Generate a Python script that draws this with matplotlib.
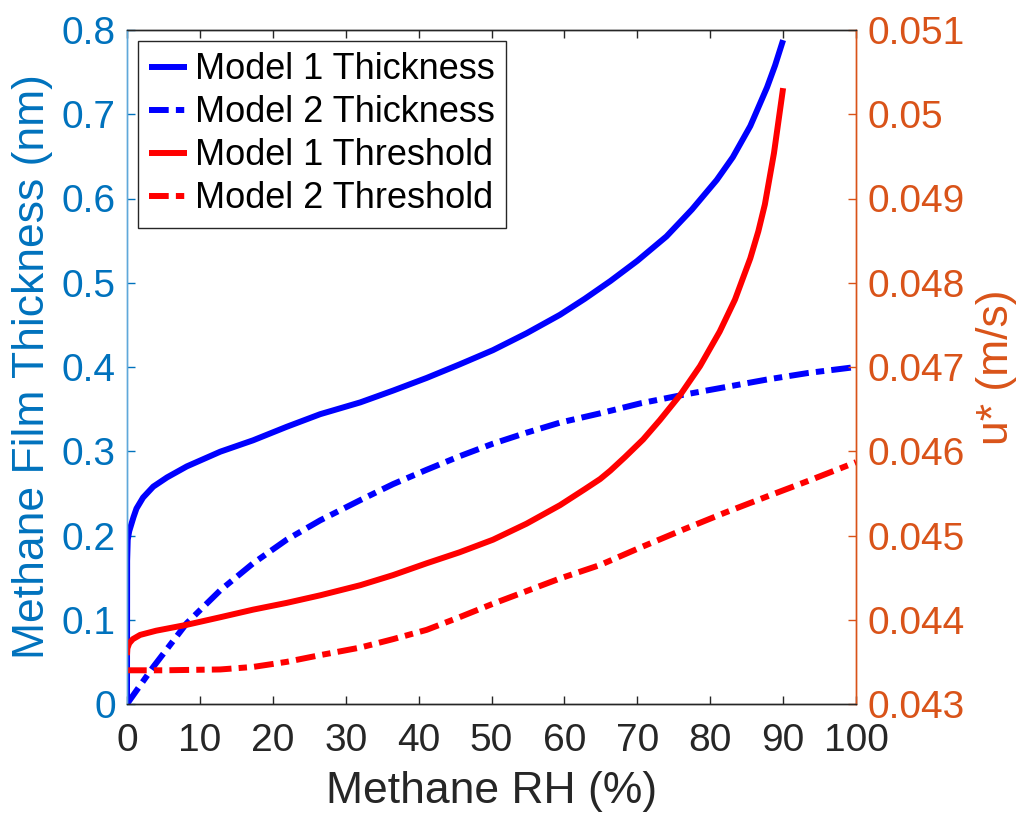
import matplotlib
matplotlib.use("Agg")
import matplotlib.pyplot as plt

plt.rcParams['font.family'] = ['Liberation Sans', 'DejaVu Sans']

# Model 1 thickness (left axis, nm)
rh_m1_thk = [0, 0.02, 0.1, 0.3, 0.9, 1.3, 2.2, 3.6, 5.5, 8.2, 12.8, 17.3, 21.9, 26.5, 32.0,
             36.5, 41.1, 45.6, 50.2, 54.8, 59.4, 62.8, 66.3, 70.0, 74.0, 77.5, 80.9,
             83.1, 85.5, 87.8, 88.9, 90.0]
thk_m1 = [0, 0.17, 0.195, 0.205, 0.222, 0.232, 0.245, 0.258, 0.269, 0.282, 0.2995, 0.313, 0.329,
          0.344, 0.358, 0.372, 0.387, 0.403, 0.420, 0.440, 0.462, 0.481, 0.502, 0.526,
          0.555, 0.587, 0.622, 0.649, 0.686, 0.732, 0.758, 0.788]

# Model 2 thickness (left axis, nm)
rh_m2_thk = [0, 3.6, 8.2, 12.8, 17.3, 21.9, 26.5, 32.0, 36.5, 41.1, 45.6, 50.2, 54.8,
             59.4, 64.9, 70.5, 76.3, 82.0, 87.7, 93.5, 100.0]
thk_m2 = [0, 0.044, 0.096, 0.135, 0.167, 0.195, 0.218, 0.242, 0.261, 0.278, 0.294, 0.309,
          0.322, 0.334, 0.345, 0.357, 0.367, 0.376, 0.385, 0.393, 0.400]

# Model 1 threshold (right axis, m/s)
rh_m1_thr = [0, 0.05, 0.3, 0.8, 1.8, 4.0, 8.2, 12.8, 17.3, 21.9, 26.5, 32.0, 36.5, 41.1,
             45.6, 50.2, 54.8, 59.4, 62.8, 64.9, 66.3, 68.3, 70.8, 73.1, 75.9, 78.6,
             81.3, 83.4, 85.5, 86.6, 87.5, 88.75, 90.0]
u_m1 = [0.04358, 0.04366, 0.04372, 0.04377, 0.04382, 0.04387, 0.04394, 0.04403, 0.04412,
        0.04420, 0.04429, 0.04441, 0.04453, 0.04467, 0.04480, 0.04495, 0.04514, 0.04536,
        0.04555, 0.04567, 0.04577, 0.04593, 0.04614, 0.04637, 0.04667, 0.04701,
        0.04742, 0.04780, 0.04829, 0.04861, 0.04893, 0.04954, 0.05031]

# Model 2 threshold (right axis, m/s)
rh_m2_thr = [0, 5.0, 12.8, 17.3, 21.9, 26.5, 32.0, 36.5, 41.1, 45.6, 50.2, 54.8, 59.4,
             64.9, 70.5, 76.3, 82.0, 87.7, 93.5, 100.0]
u_m2 = [0.04340, 0.04340, 0.04341, 0.04344, 0.04350, 0.04358, 0.04367, 0.04377, 0.04388,
        0.04403, 0.04419, 0.04434, 0.04449, 0.04465, 0.04486, 0.04507, 0.04527, 0.04546,
        0.04565, 0.04587]

xticks = list(range(0, 101, 10))
lticks = [0, 0.1, 0.2, 0.3, 0.4, 0.5, 0.6, 0.7, 0.8]
lticklabels = ['0', '0.1', '0.2', '0.3', '0.4', '0.5', '0.6', '0.7', '0.8']
rticks = [0.043, 0.044, 0.045, 0.046, 0.047, 0.048, 0.049, 0.05, 0.051]
rticklabels = ['0.043', '0.044', '0.045', '0.046', '0.047', '0.048', '0.049', '0.05', '0.051']

LBLUE = '#0072BD'
RORANGE = '#D95319'
DARK = '#262626'

fig = plt.figure(figsize=(10.29, 8.14), dpi=100)
ax = fig.add_axes([127/1029, 110/814, (856-127)/1029, (704-30)/814])
ax2 = ax.twinx()

dashdot = (0, (3.3, 1.2, 1.4, 1.2))
lw = 4.3
l1, = ax.plot(rh_m1_thk, thk_m1, color='#0000FF', lw=lw, label='Model 1 Thickness',
              solid_capstyle='butt', solid_joinstyle='round')
l2, = ax.plot(rh_m2_thk, thk_m2, color='#0000FF', lw=lw, ls=dashdot, label='Model 2 Thickness',
              dash_capstyle='butt')
l3, = ax2.plot(rh_m1_thr, u_m1, color='#FF0000', lw=lw, label='Model 1 Threshold',
               solid_capstyle='butt', solid_joinstyle='round')
l4, = ax2.plot(rh_m2_thr, u_m2, color='#FF0000', lw=lw, ls=dashdot, label='Model 2 Threshold',
               dash_capstyle='butt')

ax.set_xlim(0, 100)
ax.set_ylim(0, 0.8)
ax2.set_ylim(0.043, 0.051)

ax.set_xticks(xticks)
ax.set_xticklabels([str(t) for t in xticks])
ax.set_yticks(lticks)
ax.set_yticklabels(lticklabels)
ax2.set_yticks(rticks)
ax2.set_yticklabels(rticklabels)

ax.tick_params(axis='x', direction='in', length=6, width=1, colors=DARK, labelsize=28, top=True, pad=14)
ax.tick_params(axis='y', direction='in', length=6, width=1, colors=LBLUE, labelsize=28, pad=8)
ax2.tick_params(axis='y', direction='in', length=6, width=1, colors=RORANGE, labelsize=28, pad=8)

for a in (ax, ax2):
    a.spines['top'].set_color(DARK)
    a.spines['bottom'].set_color(DARK)
    a.spines['left'].set_color('#5FA8DA')
    a.spines['right'].set_color(RORANGE)
    for s in a.spines.values():
        s.set_linewidth(1.0)

ax.set_xlabel('Methane RH (%)', fontsize=32, color=DARK, labelpad=8)
ax.set_ylabel('Methane Film Thickness (nm)', fontsize=32, color=LBLUE, labelpad=6)
ax2.set_ylabel('u* (m/s)', fontsize=32, color=RORANGE, labelpad=8)

leg = ax2.legend(handles=[l1, l2, l3, l4], loc='upper left', fontsize=26, frameon=True,
                 fancybox=False, edgecolor=DARK, framealpha=1, handlelength=1.05,
                 handletextpad=0.2, borderpad=0.32, labelspacing=0.22,
                 borderaxespad=0.3)
leg.get_frame().set_linewidth(1.0)

fig.savefig('out.png', dpi=100)
